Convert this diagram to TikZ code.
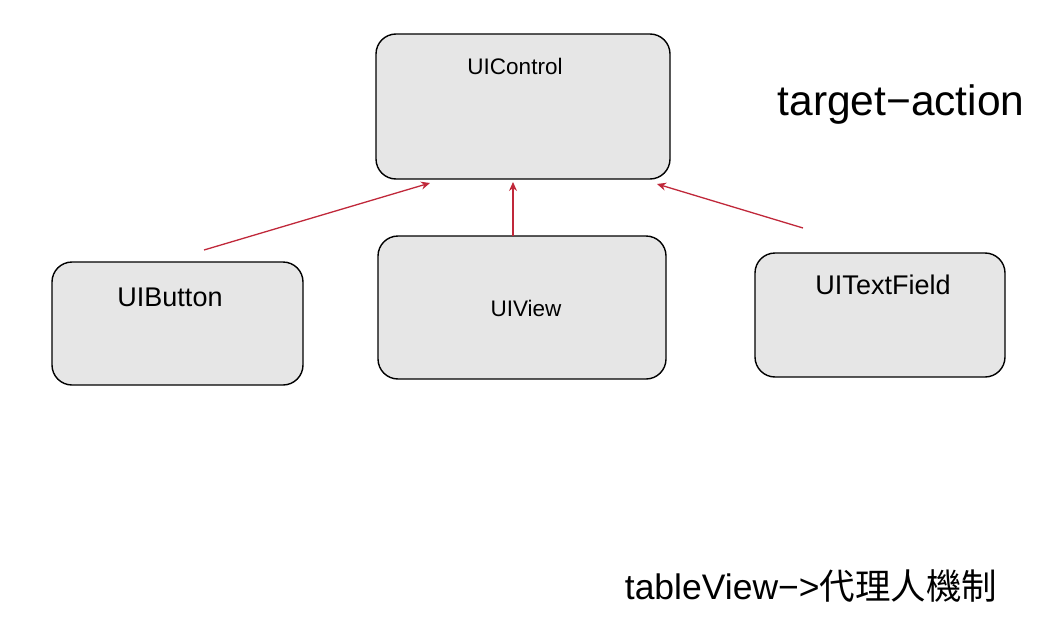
\documentclass[tikz,border=0pt]{standalone}
\usepackage{fontspec}
\setmainfont{Liberation Sans}
\newfontfamily\cjkfont{Noto Sans CJK TC}
\usetikzlibrary{arrows.meta, positioning}
\definecolor{boxgray}{RGB}{230,230,230}
\definecolor{arrowred}{RGB}{192,40,58}
\begin{document}
\begin{tikzpicture}[x=1pt, y=-1pt,
    classbox/.style={draw=black, line width=1.4pt, fill=boxgray, rounded corners=20pt, inner sep=0pt},
    inherit/.style={draw=arrowred, line width=1.3pt, -{Stealth[length=9pt, width=8pt]}}]
        \useasboundingbox (0,0) rectangle (1063,629);
        % classes
        \node[classbox, minimum width=294pt, minimum height=145pt] (ctrl) at (523,106.5) {};
        \node[classbox, minimum width=251pt, minimum height=123pt] (button) at (177.5,323.5) {};
        \node[classbox, minimum width=288pt, minimum height=143pt] (view) at (522,307.5) {};
        \node[classbox, minimum width=250pt, minimum height=124pt] (field) at (880,315) {};
        \node[font=\fontsize{22.5}{26}\selectfont] (ctrl-text) at (515,66) {UIControl};
        \node[font=\fontsize{27}{31}\selectfont] (button-text) at (170,297) {UIButton};
        \node[font=\fontsize{22.5}{26}\selectfont] (view-text) at (526,308) {UIView};
        \node[font=\fontsize{27}{31}\selectfont] (field-text) at (883,285) {UITextField};
        % arrows to UIControl
        \coordinate (button-top) at (204,250);
        \coordinate (ctrl-left) at (430,183);
        \coordinate (view-top) at (513,236);
        \coordinate (ctrl-mid) at (513,182);
        \coordinate (field-top) at (803,228);
        \coordinate (ctrl-right) at (657,184);
        \draw[inherit] (button-top) -- (ctrl-left);
        \draw[inherit] (view-top) -- (ctrl-mid);
        \draw[inherit] (field-top) -- (ctrl-right);
        % notes
        \node[font=\fontsize{42.5}{48}\selectfont] (note-target) at (901,105) {target−action};
        \node[font=\fontsize{35.5}{42}\selectfont] (note-table) at (811,586) {tableView−>{\cjkfont 代理人機制}};
\end{tikzpicture}
\end{document}
